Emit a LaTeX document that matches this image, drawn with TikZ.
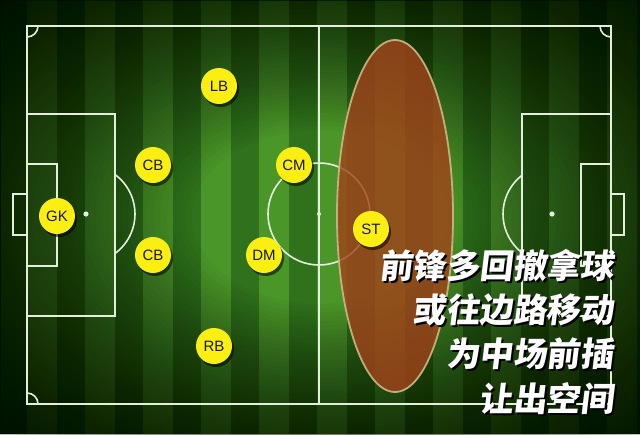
\documentclass[tikz,border=0pt]{standalone}
\usepackage{fontspec}
\setmainfont{Liberation Sans}
\newfontfamily\cjk{Noto Sans CJK SC}[FakeSlant=0.12]
\definecolor{grassdark}{HTML}{30721B}
\definecolor{grasslight}{HTML}{4A9628}
\definecolor{pitchline}{HTML}{E4EEDC}
\definecolor{zonefill}{HTML}{A2421A}
\definecolor{zoneline}{HTML}{CDB888}
\definecolor{playeryellow}{HTML}{FAEE12}
\tikzset{
  pline/.style={draw=pitchline, line width=1.6pt},
  player/.style={circle, fill=playeryellow, minimum size=36pt, inner sep=0pt, font=\fontsize{15}{15}\selectfont, text=black!90},
  pshadow/.style={circle, fill=black, opacity=0.55, minimum size=36pt, inner sep=0pt},
  caption/.style={anchor=base east, inner sep=0pt, text height=25pt, text depth=3pt, text=white, font=\cjk\bfseries\fontsize{33.5}{33.5}\selectfont},
}
\newcommand\shadowtext[1]{\rlap{\hspace{2pt}\raisebox{-2.5pt}{\textcolor{black}{#1}}}#1}
\begin{document}
\begin{tikzpicture}[x=1pt,y=-1pt]
\useasboundingbox (0,0) rectangle (640,434);
% grass
\fill[grassdark] (0,0) rectangle (640,434);
\foreach \i in {-1,...,10} {
  \fill[grasslight] ({27+58*\i},0) rectangle ({57+58*\i},434);
}
% vignette
\foreach \r in {0.40,0.42,...,1.46} {
  \fill[black, opacity=0.028, even odd rule] (0,0) rectangle (640,434) (320,217) ellipse [x radius={320*\r}, y radius={217*\r}];
}
% pitch lines
\draw[pline] (27,26) rectangle (611,404);
\draw[pline] (319,26) -- (319,404);
\draw[pline] (319,214) circle (51);
\fill[pitchline] (319,214) circle (2);
% left end
\draw[pline] (27,114) rectangle (115,316);
\draw[pline] (27,164) rectangle (57,266);
\draw[pline] (27,194) -- (13,194) -- (13,235) -- (27,235);
\fill[pitchline] (86,214) circle (2.6);
\begin{scope}
  \clip (115,0) rectangle (319,434);
  \draw[pline] (86,214) circle (49);
\end{scope}
% right end
\draw[pline] (522,114) rectangle (611,316);
\draw[pline] (581,164) rectangle (611,266);
\draw[pline] (611,194) -- (624,194) -- (624,235) -- (611,235);
\fill[pitchline] (552,214) circle (2.6);
\begin{scope}
  \clip (319,0) rectangle (522,434);
  \draw[pline] (552,214) circle (49);
\end{scope}
% corner arcs
\begin{scope}
  \clip (27,26) rectangle (611,404);
  \draw[pline] (27,26) circle (11);
  \draw[pline] (611,26) circle (11);
  \draw[pline] (27,404) circle (11);
  \draw[pline] (611,404) circle (11);
\end{scope}
% striker zone
\fill[zonefill, opacity=0.8] (395,216) ellipse [x radius=58, y radius=176];
\draw[zoneline, line width=1.8pt, opacity=0.9] (395,216) ellipse [x radius=58, y radius=176];
% players
\foreach \n/\x/\y in {LB/219/86, CBa/153/165, CM/294/165, GK/57/216, CBb/153/255, DM/264/255, RB/214/346, ST/371/229} {
  \node[pshadow] (\n-s) at (\x+2,\y+3) {};
}
\node[player] (LB) at (219,86) {LB};
\node[player] (CBa) at (153,165) {CB};
\node[player] (CM) at (294,165) {CM};
\node[player] (GK) at (57,216) {GK};
\node[player] (CBb) at (153,255) {CB};
\node[player] (DM) at (264,255) {DM};
\node[player] (RB) at (214,346) {RB};
\node[player] (ST) at (371,229) {ST};
% captions
\node[caption] (c1) at (614,278) {\shadowtext{前锋多回撤拿球}};
\node[caption] (c2) at (614,322) {\shadowtext{或往边路移动}};
\node[caption] (c3) at (614,366) {\shadowtext{为中场前插}};
\node[caption] (c4) at (614,411) {\shadowtext{让出空间}};
\end{tikzpicture}
\end{document}
